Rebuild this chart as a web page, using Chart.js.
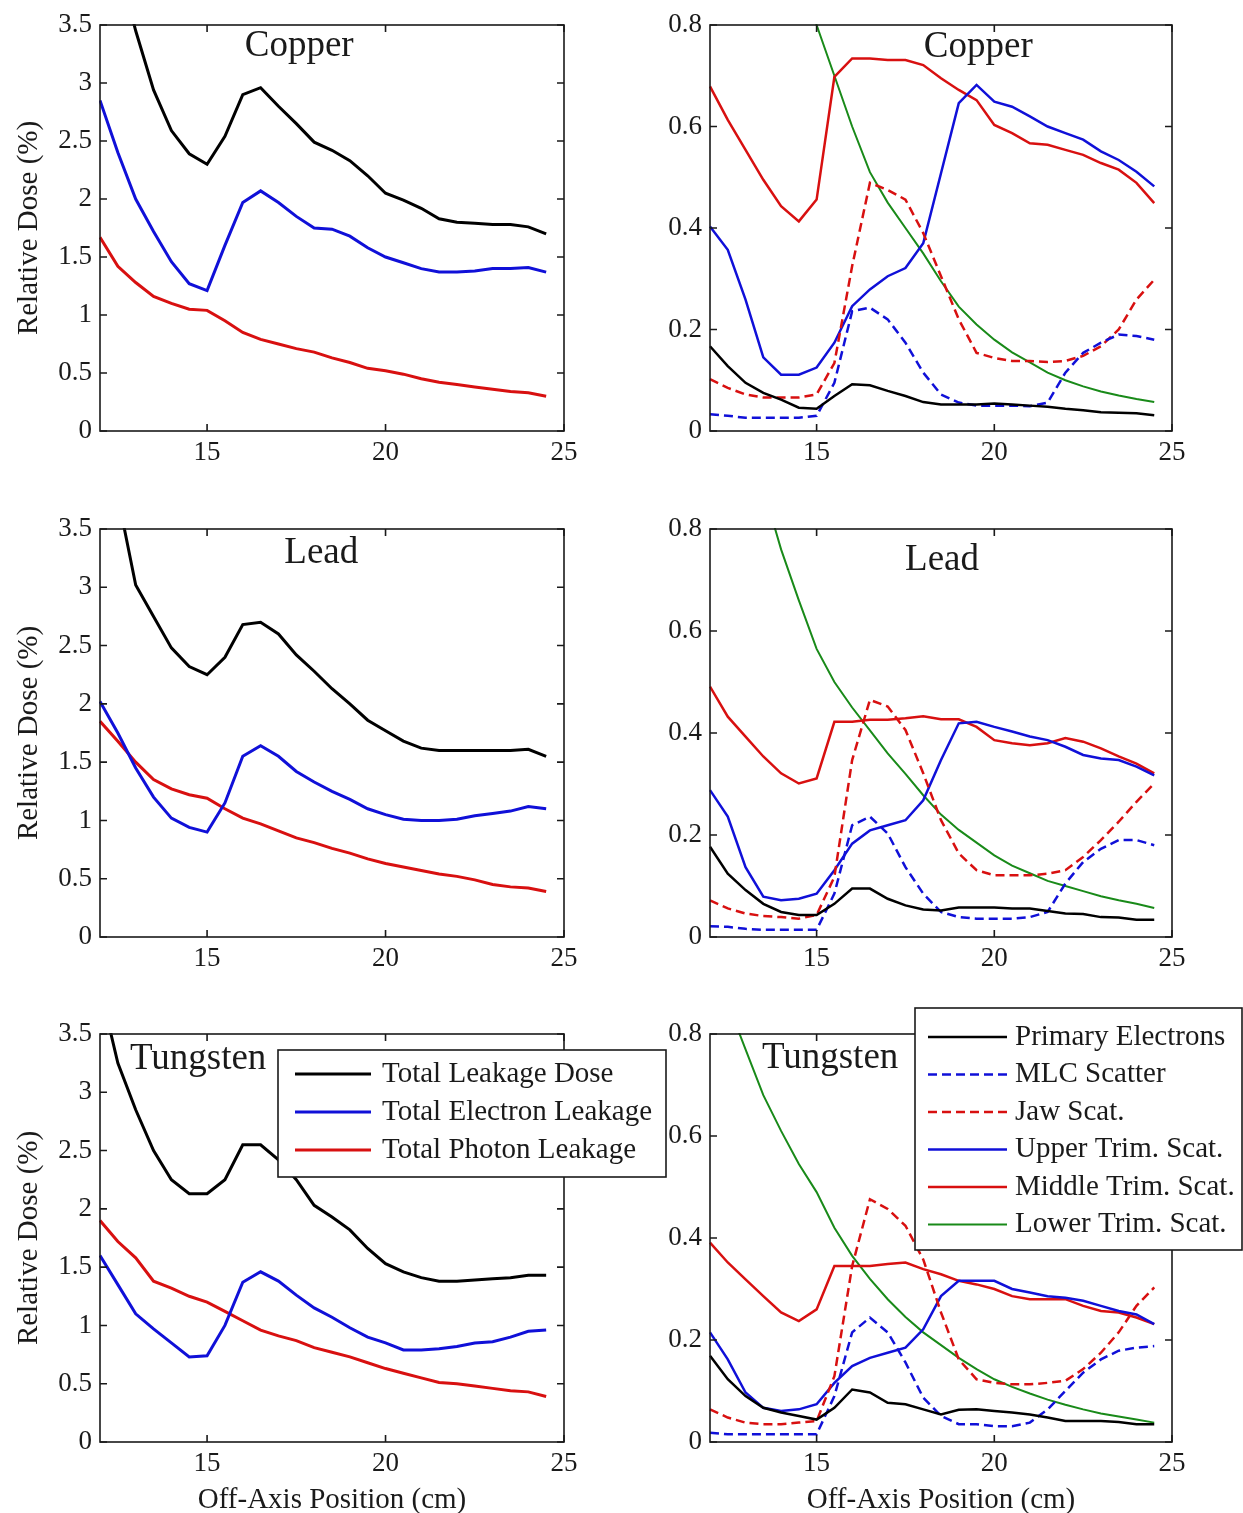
<!DOCTYPE html>
<html>
<head>
<meta charset="utf-8">
<title>Leakage dose vs off-axis position</title>
<script src="https://cdn.jsdelivr.net/npm/chart.js@4.4.1/dist/chart.umd.min.js"></script>
<style>
    html, body { margin: 0; padding: 0; background: #fff; overflow: hidden; }
    #figure { position: relative; width: 1243px; height: 1513px; }
    #figure canvas { position: absolute; }
</style>
</head>
<body>
<div id="figure"></div>

<script>
// === DATA ===
const offAxis = [12, 12.5, 13, 13.5, 14, 14.5, 15, 15.5, 16, 16.5, 17, 17.5, 18, 18.5,
                 19, 19.5, 20, 20.5, 21, 21.5, 22, 22.5, 23, 23.5, 24, 24.5];

const xTickValues = [15, 20, 25];
const totalTickValues = [0, 0.5, 1, 1.5, 2, 2.5, 3, 3.5];
const componentTickValues = [0, 0.2, 0.4, 0.6, 0.8];

const totalLabels = ['Total Leakage Dose', 'Total Electron Leakage', 'Total Photon Leakage'];
const componentLabels = ['Primary Electrons', 'MLC Scatter', 'Jaw Scat.', 'Upper Trim. Scat.',
                         'Middle Trim. Scat.', 'Lower Trim. Scat.'];

// Copper
const cuTotalLeakage = [null, 4.05, 3.45, 2.94, 2.59, 2.39, 2.30, 2.54, 2.90, 2.96, 2.80, 2.65, 2.49, 2.42,
                        2.33, 2.20, 2.05, 1.99, 1.92, 1.83, 1.80, 1.79, 1.78, 1.78, 1.76, 1.70];
const cuTotalElectron = [2.85, 2.40, 2.00, 1.72, 1.46, 1.27, 1.21, 1.60, 1.97, 2.07, 1.97, 1.85, 1.75, 1.74,
                         1.68, 1.58, 1.50, 1.45, 1.40, 1.37, 1.37, 1.38, 1.40, 1.40, 1.41, 1.37];
const cuTotalPhoton = [1.67, 1.42, 1.28, 1.16, 1.10, 1.05, 1.04, 0.95, 0.85, 0.79, 0.75, 0.71, 0.68, 0.63,
                       0.59, 0.54, 0.52, 0.49, 0.45, 0.42, 0.40, 0.38, 0.36, 0.34, 0.33, 0.30];

const cuPrimary = [0.167, 0.128, 0.095, 0.075, 0.062, 0.046, 0.044, 0.069, 0.092, 0.090, 0.079, 0.069, 0.057,
                   0.052, 0.052, 0.052, 0.054, 0.052, 0.050, 0.048, 0.044, 0.041, 0.037, 0.036, 0.035, 0.031];
const cuMlc = [0.033, 0.030, 0.026, 0.026, 0.026, 0.026, 0.030, 0.095, 0.236, 0.243, 0.220, 0.174, 0.115,
               0.072, 0.056, 0.050, 0.050, 0.050, 0.049, 0.056, 0.115, 0.154, 0.174, 0.190, 0.187, 0.180];
const cuJaw = [0.102, 0.085, 0.072, 0.066, 0.066, 0.066, 0.072, 0.134, 0.325, 0.489, 0.475, 0.456, 0.390,
               0.305, 0.220, 0.154, 0.144, 0.138, 0.138, 0.136, 0.138, 0.148, 0.167, 0.200, 0.259, 0.298];
const cuUpper = [0.403, 0.357, 0.259, 0.145, 0.111, 0.111, 0.125, 0.174, 0.246, 0.279, 0.305, 0.321, 0.370,
                 0.508, 0.646, 0.682, 0.649, 0.639, 0.620, 0.600, 0.587, 0.574, 0.551, 0.534, 0.511, 0.482];
const cuMiddle = [0.679, 0.613, 0.554, 0.495, 0.443, 0.413, 0.456, 0.698, 0.734, 0.734, 0.731, 0.731, 0.721,
                  0.695, 0.672, 0.652, 0.603, 0.587, 0.567, 0.564, 0.554, 0.544, 0.528, 0.515, 0.489, 0.449];
const cuLower = [null, null, null, null, null, 0.92, 0.80, 0.70, 0.60, 0.51, 0.45, 0.40, 0.35,
                 0.295, 0.245, 0.21, 0.18, 0.155, 0.135, 0.115, 0.10, 0.088, 0.078, 0.070, 0.063, 0.057];

// Lead
const pbTotalLeakage = [null, 3.78, 3.02, 2.75, 2.48, 2.32, 2.25, 2.40, 2.68, 2.70, 2.60, 2.42, 2.28, 2.13,
                        2.00, 1.86, 1.77, 1.68, 1.62, 1.60, 1.60, 1.60, 1.60, 1.60, 1.61, 1.55];
const pbTotalElectron = [2.02, 1.75, 1.45, 1.20, 1.02, 0.94, 0.90, 1.15, 1.55, 1.64, 1.55, 1.42, 1.33, 1.25,
                         1.18, 1.10, 1.05, 1.01, 1.00, 1.00, 1.01, 1.04, 1.06, 1.08, 1.12, 1.10];
const pbTotalPhoton = [1.85, 1.68, 1.50, 1.35, 1.27, 1.22, 1.19, 1.10, 1.02, 0.97, 0.91, 0.85, 0.81, 0.76,
                       0.72, 0.67, 0.63, 0.60, 0.57, 0.54, 0.52, 0.49, 0.45, 0.43, 0.42, 0.39];

const pbPrimary = [0.177, 0.124, 0.092, 0.065, 0.049, 0.043, 0.043, 0.065, 0.095, 0.095, 0.075, 0.062, 0.054,
                   0.052, 0.058, 0.058, 0.058, 0.056, 0.056, 0.051, 0.046, 0.045, 0.039, 0.038, 0.034, 0.034];
const pbMlc = [0.021, 0.020, 0.016, 0.014, 0.014, 0.014, 0.014, 0.085, 0.219, 0.236, 0.203, 0.137, 0.085,
               0.049, 0.039, 0.036, 0.036, 0.036, 0.039, 0.049, 0.105, 0.147, 0.173, 0.190, 0.190, 0.180];
const pbJaw = [0.072, 0.056, 0.046, 0.041, 0.039, 0.036, 0.043, 0.118, 0.347, 0.465, 0.452, 0.406, 0.321,
               0.229, 0.164, 0.131, 0.121, 0.121, 0.121, 0.124, 0.131, 0.157, 0.190, 0.226, 0.265, 0.301];
const pbUpper = [0.288, 0.236, 0.137, 0.079, 0.072, 0.075, 0.085, 0.131, 0.183, 0.209, 0.219, 0.229, 0.268,
                 0.347, 0.419, 0.422, 0.412, 0.403, 0.393, 0.386, 0.373, 0.357, 0.350, 0.347, 0.334, 0.317];
const pbMiddle = [0.491, 0.432, 0.393, 0.354, 0.321, 0.301, 0.311, 0.422, 0.422, 0.426, 0.426, 0.429, 0.433,
                  0.427, 0.427, 0.412, 0.386, 0.380, 0.376, 0.380, 0.390, 0.383, 0.370, 0.354, 0.340, 0.321];
const pbLower = [null, null, null, 0.88, 0.76, 0.66, 0.565, 0.50, 0.45, 0.405, 0.36, 0.32, 0.278,
                 0.24, 0.21, 0.185, 0.16, 0.14, 0.125, 0.11, 0.10, 0.09, 0.08, 0.072, 0.065, 0.057];

// Tungsten
const wTotalLeakage = [3.90, 3.25, 2.85, 2.50, 2.25, 2.13, 2.13, 2.25, 2.55, 2.55, 2.42, 2.25, 2.03, 1.93,
                       1.82, 1.66, 1.53, 1.46, 1.41, 1.38, 1.38, 1.39, 1.40, 1.41, 1.43, 1.43];
const wTotalElectron = [1.60, 1.35, 1.10, 0.97, 0.85, 0.73, 0.74, 1.00, 1.37, 1.46, 1.38, 1.26, 1.15, 1.07,
                        0.98, 0.90, 0.85, 0.79, 0.79, 0.80, 0.82, 0.85, 0.86, 0.90, 0.95, 0.96];
const wTotalPhoton = [1.90, 1.72, 1.58, 1.38, 1.32, 1.25, 1.20, 1.12, 1.04, 0.96, 0.91, 0.87, 0.81, 0.77,
                      0.73, 0.68, 0.63, 0.59, 0.55, 0.51, 0.50, 0.48, 0.46, 0.44, 0.43, 0.39];

const wPrimary = [0.169, 0.123, 0.090, 0.067, 0.058, 0.051, 0.044, 0.067, 0.103, 0.097, 0.077, 0.074, 0.064,
                  0.054, 0.063, 0.064, 0.061, 0.058, 0.054, 0.048, 0.041, 0.041, 0.041, 0.039, 0.035, 0.035];
const wMlc = [0.018, 0.015, 0.015, 0.015, 0.015, 0.015, 0.015, 0.090, 0.215, 0.244, 0.215, 0.156, 0.087,
              0.051, 0.035, 0.035, 0.031, 0.031, 0.038, 0.064, 0.100, 0.136, 0.162, 0.179, 0.185, 0.188];
const wJaw = [0.064, 0.048, 0.038, 0.035, 0.035, 0.038, 0.041, 0.129, 0.345, 0.476, 0.457, 0.424, 0.358,
              0.254, 0.162, 0.123, 0.116, 0.113, 0.113, 0.116, 0.120, 0.143, 0.175, 0.215, 0.267, 0.303];
const wUpper = [0.215, 0.162, 0.097, 0.067, 0.061, 0.064, 0.074, 0.116, 0.149, 0.165, 0.175, 0.185, 0.221,
                0.286, 0.316, 0.316, 0.316, 0.300, 0.293, 0.286, 0.283, 0.277, 0.267, 0.257, 0.250, 0.231];
const wMiddle = [0.391, 0.352, 0.319, 0.286, 0.254, 0.237, 0.260, 0.345, 0.345, 0.345, 0.349, 0.352, 0.339,
                 0.329, 0.316, 0.309, 0.300, 0.286, 0.280, 0.280, 0.280, 0.267, 0.257, 0.254, 0.244, 0.231];
const wLower = [null, 0.86, 0.77, 0.68, 0.61, 0.545, 0.49, 0.42, 0.365, 0.32, 0.28, 0.245, 0.215,
                0.19, 0.165, 0.143, 0.123, 0.108, 0.095, 0.083, 0.073, 0.064, 0.056, 0.050, 0.044, 0.038];

// === STYLE ===
const SERIF = '"Liberation Serif", "Times New Roman", serif';
const INK = '#1a1a1a';
const BLACK = '#000000';
const BLUE = '#1010d8';
const RED = '#d81010';
const GREEN = '#198a19';
const DASH = [9, 5];

// plot boxes on the page: columns give x, rows give y
const columns = [
    { left: 0, width: 680, axisWidth: 100, padRight: 116 },   // plot x 100 -> 564
    { left: 640, width: 603, axisWidth: 70, padRight: 71 }     // plot x 710 -> 1172
];
const rows = [
    { top: 25, height: 406, axisHeight: 50 },
    { top: 529, height: 408, axisHeight: 50 },
    { top: 1034, height: 408, axisHeight: 76 }
];
const PAD_TOP = 28;

function toPoints(values) {
    return offAxis.map((x, i) => ({ x: x, y: values[i] }));
}

function line(label, values, color, width, dash) {
    return {
        label: label,
        data: toPoints(values),
        borderColor: color,
        borderWidth: width,
        borderDash: dash || [],
        pointRadius: 0,
        tension: 0,
        fill: false,
        clip: 1
    };
}

function totalSets(leak, elec, phot) {
    return [
        line(totalLabels[0], leak, BLACK, 3),
        line(totalLabels[1], elec, BLUE, 3),
        line(totalLabels[2], phot, RED, 3)
    ];
}

function componentSets(prim, mlc, jaw, upper, middle, lower) {
    return [
        line(componentLabels[0], prim, BLACK, 2.5),
        line(componentLabels[1], mlc, BLUE, 2.5, DASH),
        line(componentLabels[2], jaw, RED, 2.5, DASH),
        line(componentLabels[3], upper, BLUE, 2.5),
        line(componentLabels[4], middle, RED, 2.5),
        line(componentLabels[5], lower, GREEN, 2)
    ];
}

// === PLUGINS ===
// box with inward ticks on all four sides
const framePlugin = {
    id: 'frame',
    afterDatasetsDraw(chart) {
        const { ctx, chartArea: a, scales: { x, y } } = chart;
        const len = 7;
        ctx.save();
        ctx.strokeStyle = INK;
        ctx.lineWidth = 1.6;
        ctx.strokeRect(a.left, a.top, a.width, a.height);
        ctx.beginPath();
        x.ticks.forEach(t => {
            const px = x.getPixelForValue(t.value);
            ctx.moveTo(px, a.bottom); ctx.lineTo(px, a.bottom - len);
            ctx.moveTo(px, a.top); ctx.lineTo(px, a.top + len);
        });
        y.ticks.forEach(t => {
            const py = y.getPixelForValue(t.value);
            ctx.moveTo(a.left, py); ctx.lineTo(a.left + len, py);
            ctx.moveTo(a.right, py); ctx.lineTo(a.right - len, py);
        });
        ctx.stroke();
        ctx.restore();
    }
};

// material name placed in data coordinates
const panelTitlePlugin = {
    id: 'panelTitle',
    afterDatasetsDraw(chart, args, opts) {
        if (!opts.text) return;
        const { ctx, scales: { x, y } } = chart;
        ctx.save();
        ctx.font = `37px ${SERIF}`;
        ctx.fillStyle = INK;
        ctx.textAlign = 'center';
        ctx.textBaseline = 'middle';
        ctx.fillText(opts.text, x.getPixelForValue(opts.at[0]), y.getPixelForValue(opts.at[1]));
        ctx.restore();
    }
};

// boxed legend, may hang outside the plot area
const boxLegendPlugin = {
    id: 'boxLegend',
    afterDraw(chart, args, opts) {
        if (!opts.show) return;
        const { ctx, chartArea: a } = chart;
        const x0 = a.left + opts.left;
        const y0 = a.top + opts.top;
        ctx.save();
        ctx.fillStyle = '#fff';
        ctx.fillRect(x0, y0, opts.width, opts.height);
        ctx.strokeStyle = INK;
        ctx.lineWidth = 1.6;
        ctx.strokeRect(x0, y0, opts.width, opts.height);
        ctx.font = `29px ${SERIF}`;
        ctx.textBaseline = 'middle';
        chart.data.datasets.forEach((ds, i) => {
            const yy = y0 + opts.firstRow + i * opts.rowGap;
            ctx.strokeStyle = ds.borderColor;
            ctx.lineWidth = ds.borderWidth;
            ctx.setLineDash(ds.borderDash);
            ctx.beginPath();
            ctx.moveTo(x0 + opts.lineFrom, yy);
            ctx.lineTo(x0 + opts.lineTo, yy);
            ctx.stroke();
            ctx.setLineDash([]);
            ctx.fillStyle = INK;
            ctx.fillText(ds.label, x0 + opts.textX, yy);
        });
        ctx.restore();
    }
};

// === PANELS ===
const panels = [
    { col: 0, row: 0, title: 'Copper', at: [17.58, 3.32], datasets: totalSets(cuTotalLeakage, cuTotalElectron, cuTotalPhoton) },
    { col: 1, row: 0, title: 'Copper', at: [19.55, 0.757], datasets: componentSets(cuPrimary, cuMlc, cuJaw, cuUpper, cuMiddle, cuLower) },
    { col: 0, row: 1, title: 'Lead', at: [18.2, 3.29], datasets: totalSets(pbTotalLeakage, pbTotalElectron, pbTotalPhoton) },
    { col: 1, row: 1, title: 'Lead', at: [18.53, 0.739], datasets: componentSets(pbPrimary, pbMlc, pbJaw, pbUpper, pbMiddle, pbLower) },
    { col: 0, row: 2, title: 'Tungsten', at: [14.75, 3.28], datasets: totalSets(wTotalLeakage, wTotalElectron, wTotalPhoton),
      legend: { show: true, left: 178, top: 16, width: 388, height: 127, lineFrom: 17, lineTo: 93, textX: 104, firstRow: 24, rowGap: 38 } },
    { col: 1, row: 2, title: 'Tungsten', at: [15.38, 0.753], datasets: componentSets(wPrimary, wMlc, wJaw, wUpper, wMiddle, wLower),
      legend: { show: true, left: 205, top: -26, width: 327, height: 242, lineFrom: 13, lineTo: 92, textX: 100, firstRow: 29, rowGap: 37.5 } }
];

function renderPanel(p) {
    const col = columns[p.col];
    const row = rows[p.row];
    const isTotal = p.col === 0;

    const canvas = document.createElement('canvas');
    canvas.width = col.width;
    canvas.height = PAD_TOP + row.height + row.axisHeight;
    canvas.style.left = `${col.left}px`;
    canvas.style.top = `${row.top - PAD_TOP}px`;
    document.getElementById('figure').appendChild(canvas);

    const yTicks = isTotal ? totalTickValues : componentTickValues;

    new Chart(canvas.getContext('2d'), {
        type: 'line',
        data: { datasets: p.datasets },
        options: {
            responsive: false,
            animation: false,
            events: [],
            layout: { padding: { top: PAD_TOP, right: col.padRight, left: 0, bottom: 0 } },
            scales: {
                x: {
                    type: 'linear',
                    min: 12,
                    max: 25,
                    grid: { display: false, drawTicks: false },
                    border: { display: false },
                    afterBuildTicks: s => { s.ticks = xTickValues.map(v => ({ value: v })); },
                    afterFit: s => { s.height = row.axisHeight; },
                    ticks: {
                        padding: 6,
                        maxRotation: 0,
                        autoSkip: false,
                        color: INK,
                        font: { family: SERIF, size: 27 },
                        callback: v => String(v)
                    },
                    title: {
                        display: p.row === 2,
                        text: 'Off-Axis Position (cm)',
                        color: INK,
                        font: { family: SERIF, size: 29 },
                        padding: { top: 0, bottom: 0 }
                    }
                },
                y: {
                    type: 'linear',
                    min: 0,
                    max: isTotal ? 3.5 : 0.8,
                    grid: { display: false, drawTicks: false },
                    border: { display: false },
                    afterBuildTicks: s => { s.ticks = yTicks.map(v => ({ value: v })); },
                    afterFit: s => { s.width = col.axisWidth; },
                    ticks: {
                        padding: 8,
                        autoSkip: false,
                        color: INK,
                        font: { family: SERIF, size: 27 },
                        callback: v => String(v)
                    },
                    title: {
                        display: isTotal,
                        text: 'Relative Dose (%)',
                        color: INK,
                        font: { family: SERIF, size: 29 },
                        padding: { top: 12, bottom: 0 }
                    }
                }
            },
            plugins: {
                legend: { display: false },
                tooltip: { enabled: false },
                panelTitle: { text: p.title, at: p.at },
                boxLegend: p.legend || { show: false }
            }
        },
        plugins: [panelTitlePlugin, framePlugin, boxLegendPlugin]
    });
}

panels.forEach(renderPanel);
</script>
</body>
</html>
